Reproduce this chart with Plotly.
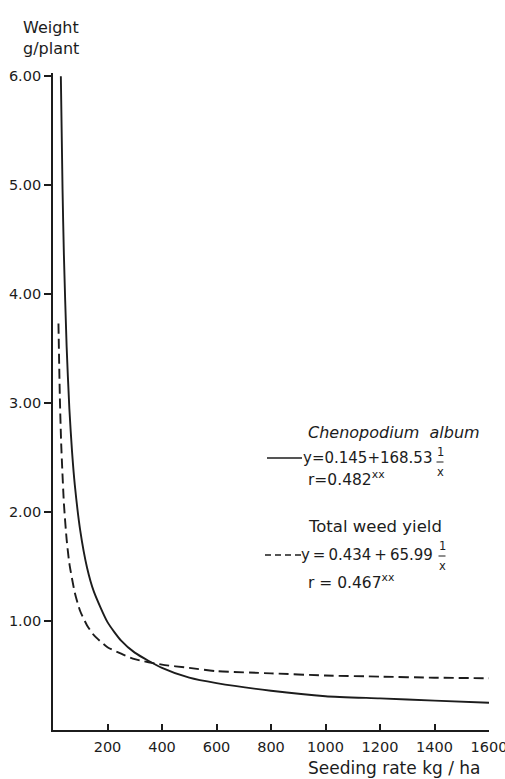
import plotly.graph_objects as go

# Seeding rate (kg/ha) and weight (g/plant)
x_cheno = [28.8, 35, 40, 50, 60, 70, 80, 100, 125, 150, 200, 250, 300, 400, 500, 600, 800, 1000, 1200, 1400, 1600]
y_cheno = [6.00, 4.96, 4.36, 3.52, 2.95, 2.55, 2.25, 1.83, 1.49, 1.27, 0.99, 0.82, 0.71, 0.57, 0.48, 0.43, 0.36, 0.31, 0.29, 0.27, 0.25]
x_total = [20, 25, 30, 40, 50, 60, 80, 100, 125, 150, 200, 250, 300, 400, 500, 600, 800, 1000, 1200, 1400, 1600]
y_total = [3.73, 3.07, 2.63, 2.08, 1.75, 1.53, 1.26, 1.09, 0.96, 0.87, 0.76, 0.70, 0.65, 0.60, 0.57, 0.54, 0.52, 0.50, 0.49, 0.48, 0.475]

x_ticks = [200, 400, 600, 800, 1000, 1200, 1400, 1600]
y_ticks = [1, 2, 3, 4, 5, 6]
y_tick_labels = ["1.00", "2.00", "3.00", "4.00", "5.00", "6.00"]

INK = "#1c1c1c"
FONT = "DejaVu Sans"

W, H = 505, 779
# plot area in page pixels
PX0, PX1, PY0, PY1 = 53, 489, 73, 730
L, T = PX0, PY0
PW, PH = PX1 - PX0, PY1 - PY0
R, B = W - L - PW, H - T - PH


def ax(px):
    return (px - PX0) / PW


def ay(py):
    return (PY1 - py) / PH


fig = go.Figure()
fig.add_trace(go.Scatter(x=x_cheno, y=y_cheno, mode="lines",
                         line=dict(color=INK, width=1.9, shape="spline", smoothing=0.6),
                         name="Chenopodium album", showlegend=False, hoverinfo="skip"))
fig.add_trace(go.Scatter(x=x_total, y=y_total, mode="lines",
                         line=dict(color=INK, width=1.9, dash="10px,5px", shape="spline", smoothing=0.6),
                         name="Total weed yield", showlegend=False, hoverinfo="skip"))

fig.update_layout(
    template="none",
    width=W, height=H, autosize=False,
    margin=dict(l=L, r=R, t=T, b=B, pad=0),
    paper_bgcolor="white", plot_bgcolor="white",
    font=dict(family=FONT, color=INK, size=14),
    xaxis=dict(range=[0, 1600], automargin=False, showgrid=False, zeroline=False, showline=True,
               linecolor=INK, linewidth=1.8, ticks="inside", ticklen=6, tickwidth=1.5,
               tickcolor=INK, tickvals=x_ticks, ticktext=[str(v) for v in x_ticks],
               ticklabeloverflow="allow", ticklabelstandoff=3,
               tickfont=dict(size=14.5, family=FONT, color=INK)),
    yaxis=dict(range=[0, 6.03], automargin=False, showgrid=False, zeroline=False, showline=True,
               linecolor=INK, linewidth=1.8, ticks="outside", ticklen=7, tickwidth=1.5,
               tickcolor=INK, tickvals=y_ticks, ticktext=y_tick_labels,
               tickfont=dict(size=14.5, family=FONT, color=INK)),
)

TS = "\u2009"
annos = [
    dict(text="Weight<br>g/plant", x=ax(21), y=ay(16), xanchor="left", yanchor="top", align="left",
         font=dict(size=16)),
    dict(text="Seeding rate kg / ha", x=ax(306), y=ay(768), xanchor="left", yanchor="middle",
         font=dict(size=17)),
    dict(text="<i>Chenopodium\u00a0\u00a0album</i>", x=ax(306), y=ay(432), xanchor="left", yanchor="middle",
         font=dict(size=16)),
    dict(text="y=0.145+168.53", x=ax(434), y=ay(458), xanchor="right", yanchor="middle", font=dict(size=15)),
    dict(text="r=0.482<sup>xx</sup>", x=ax(306), y=ay(478), xanchor="left", yanchor="middle", font=dict(size=15.5)),
    dict(text="Total weed yield", x=ax(306), y=ay(526), xanchor="left", yanchor="middle", font=dict(size=16.5)),
    dict(text=f"y{TS}={TS}0.434{TS}+{TS}65.99", x=ax(435), y=ay(555), xanchor="right", yanchor="middle",
         font=dict(size=15)),
    dict(text="r = 0.467<sup>xx</sup>", x=ax(306), y=ay(581), xanchor="left", yanchor="middle", font=dict(size=15.5)),
]
for a in annos:
    a.update(xref="paper", yref="paper", showarrow=False)
    fig.add_annotation(**a)

# the 1/x fractions: numerator, bar, denominator
for cx, cy in [(440, 462), (442, 556)]:
    fig.add_annotation(text="1", x=ax(cx), y=ay(cy - 1), xanchor="center", yanchor="bottom",
                       xref="paper", yref="paper", showarrow=False, font=dict(size=11.5))
    fig.add_annotation(text="x", x=ax(cx), y=ay(cy + 1), xanchor="center", yanchor="top",
                       xref="paper", yref="paper", showarrow=False, font=dict(size=11.5))
    fig.add_shape(type="line", xref="paper", yref="paper", x0=ax(cx - 3.5), x1=ax(cx + 3.5),
                  y0=ay(cy), y1=ay(cy), line=dict(color=INK, width=1))

fig.add_shape(type="line", xref="paper", yref="paper", x0=ax(267), x1=ax(302), y0=ay(458), y1=ay(458),
              line=dict(color=INK, width=1.6))
fig.add_shape(type="line", xref="paper", yref="paper", x0=ax(265), x1=ax(305), y0=ay(555), y1=ay(555),
              line=dict(color=INK, width=1.6, dash="6px,4px"))

fig.write_html("out.html", config={"displayModeBar": False},
               post_script="document.body.style.margin='0';document.body.style.overflow='hidden';")
